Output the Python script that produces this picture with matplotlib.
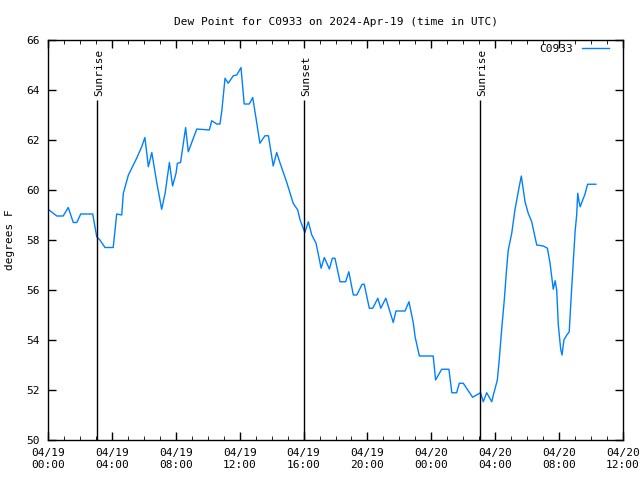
import matplotlib
matplotlib.use("Agg")
import matplotlib.pyplot as plt
import matplotlib.dates as mdates
import pandas as pd

times = [
    "04-19 00:04", "04-19 00:33", "04-19 00:57", "04-19 01:16", "04-19 01:35", "04-19 01:48",
    "04-19 02:03", "04-19 02:48", "04-19 03:03", "04-19 03:15", "04-19 03:34", "04-19 04:05",
    "04-19 04:18", "04-19 04:37", "04-19 04:43", "04-19 05:02", "04-19 05:33", "04-19 05:52",
    "04-19 06:04", "04-19 06:17", "04-19 06:30", "04-19 06:48", "04-19 07:07", "04-19 07:20",
    "04-19 07:36", "04-19 07:48", "04-19 08:01", "04-19 08:06", "04-19 08:18", "04-19 08:37",
    "04-19 08:47", "04-19 09:06", "04-19 09:19", "04-19 10:06", "04-19 10:15", "04-19 10:34",
    "04-19 10:46", "04-19 10:53", "04-19 11:05", "04-19 11:17", "04-19 11:36", "04-19 11:49",
    "04-19 12:05", "04-19 12:17", "04-19 12:36", "04-19 12:49", "04-19 13:01", "04-19 13:16",
    "04-19 13:35", "04-19 13:48", "04-19 14:06", "04-19 14:19", "04-19 14:32", "04-19 14:57",
    "04-19 15:21", "04-19 15:38", "04-19 15:47", "04-19 16:05", "04-19 16:18", "04-19 16:31",
    "04-19 16:47", "04-19 17:06", "04-19 17:18", "04-19 17:37", "04-19 17:48", "04-19 17:58",
    "04-19 18:17", "04-19 18:38", "04-19 18:50", "04-19 19:07", "04-19 19:20", "04-19 19:40",
    "04-19 19:48", "04-19 20:07", "04-19 20:20", "04-19 20:39", "04-19 20:50", "04-19 21:09",
    "04-19 21:37", "04-19 21:47", "04-19 22:21", "04-19 22:36", "04-19 22:52", "04-19 22:59",
    "04-19 23:15", "04-20 00:07", "04-20 00:16", "04-20 00:39", "04-20 01:06", "04-20 01:17",
    "04-20 01:35", "04-20 01:45", "04-20 02:00", "04-20 02:35", "04-20 02:50", "04-20 03:05",
    "04-20 03:15", "04-20 03:28", "04-20 03:47", "04-20 03:53", "04-20 04:08", "04-20 04:15",
    "04-20 04:24", "04-20 04:34", "04-20 04:43", "04-20 04:49", "04-20 05:02", "04-20 05:14",
    "04-20 05:30", "04-20 05:38", "04-20 05:52", "04-20 06:04", "04-20 06:17", "04-20 06:36",
    "04-20 07:01", "04-20 07:16", "04-20 07:26", "04-20 07:38", "04-20 07:45", "04-20 07:51",
    "04-20 07:57", "04-20 08:06", "04-20 08:11", "04-20 08:18", "04-20 08:29", "04-20 08:38",
    "04-20 08:45", "04-20 08:53", "04-20 09:00", "04-20 09:06", "04-20 09:10", "04-20 09:15",
    "04-20 09:19", "04-20 09:37", "04-20 09:47", "04-20 10:18",
]
dewpoint = [
    59.2, 58.96, 58.96, 59.3, 58.7, 58.7,
    59.04, 59.04, 58.13, 58.0, 57.7, 57.7,
    59.04, 59.0, 59.87, 60.6, 61.27, 61.73,
    62.1, 60.93, 61.5, 60.33, 59.23, 59.87,
    61.1, 60.16, 60.67, 61.07, 61.1, 62.5,
    61.53, 62.07, 62.44, 62.4, 62.77, 62.64,
    62.64, 63.17, 64.47, 64.27, 64.57, 64.6,
    64.9, 63.44, 63.44, 63.7, 62.9, 61.87,
    62.17, 62.17, 60.96, 61.5, 61.07, 60.3,
    59.47, 59.2, 58.8, 58.3, 58.73, 58.2,
    57.87, 56.87, 57.3, 56.84, 57.27, 57.27,
    56.33, 56.33, 56.73, 55.8, 55.8, 56.23,
    56.23, 55.27, 55.27, 55.67, 55.27, 55.67,
    54.7, 55.16, 55.16, 55.53, 54.7, 54.13,
    53.36, 53.36, 52.4, 52.83, 52.83, 51.89,
    51.89, 52.27, 52.27, 51.71, 51.8, 51.89,
    51.53, 51.89, 51.53, 51.8, 52.4, 53.2,
    54.4, 55.6, 56.87, 57.6, 58.27, 59.2,
    60.13, 60.56, 59.53, 59.07, 58.73, 57.8,
    57.76, 57.67, 57.07, 56.03, 56.37, 56.0,
    54.6, 53.63, 53.4, 54.0, 54.2, 54.33,
    55.67, 57.07, 58.33, 59.0, 59.87, 59.53,
    59.33, 59.83, 60.23, 60.23,
]
event_times = ["04-19 03:03", "04-19 16:02", "04-20 03:03"]
event_labels = ["Sunrise", "Sunset", "Sunrise"]
event_top = 63.6

x = pd.to_datetime(["2024-" + t for t in times])
ev = pd.to_datetime(["2024-" + t for t in event_times])

plt.rcParams['font.family'] = ['DejaVu Sans Mono', 'DejaVu Sans']
fig = plt.figure(figsize=(6.4, 4.8), dpi=100)
ax = fig.add_axes([48/640, 40/480, 575/640, 400/480])

ax.plot(x, dewpoint, color='#0080ff', lw=1, label='C0933')

for t, lab in zip(ev, event_labels):
    ax.vlines(t, 50, event_top, color='black', lw=1)
    ax.annotate(lab, (t, event_top), xytext=(1.5, 3), textcoords='offset points',
                rotation=90, ha='center', va='bottom', fontsize=8)

ax.set_xlim(pd.Timestamp("2024-04-19 00:00"), pd.Timestamp("2024-04-20 12:00"))
ax.set_ylim(50, 66)
ax.set_yticks(range(50, 67, 2))
ax.xaxis.set_major_locator(mdates.HourLocator(byhour=range(0, 24, 4)))
ax.xaxis.set_minor_locator(mdates.HourLocator())
ax.xaxis.set_major_formatter(mdates.DateFormatter('%m/%d\n%H:%M'))
ax.tick_params(direction='in', top=True, right=True, labelsize=8, length=6, width=1, pad=6)
ax.tick_params(which='minor', direction='in', top=True, length=3)
for s in ax.spines.values():
    s.set_linewidth(1)

ax.set_title("Dew Point for C0933 on 2024-Apr-19 (time in UTC)", fontsize=8, pad=11)
ax.set_ylabel("degrees F", fontsize=8, labelpad=8)
ax.legend(loc='upper right', bbox_to_anchor=(1 - 8/575, 1 + 2/400), frameon=False,
          markerfirst=False, fontsize=8, handlelength=2.5, borderaxespad=0.1)

fig.savefig("out.png", dpi=100)
